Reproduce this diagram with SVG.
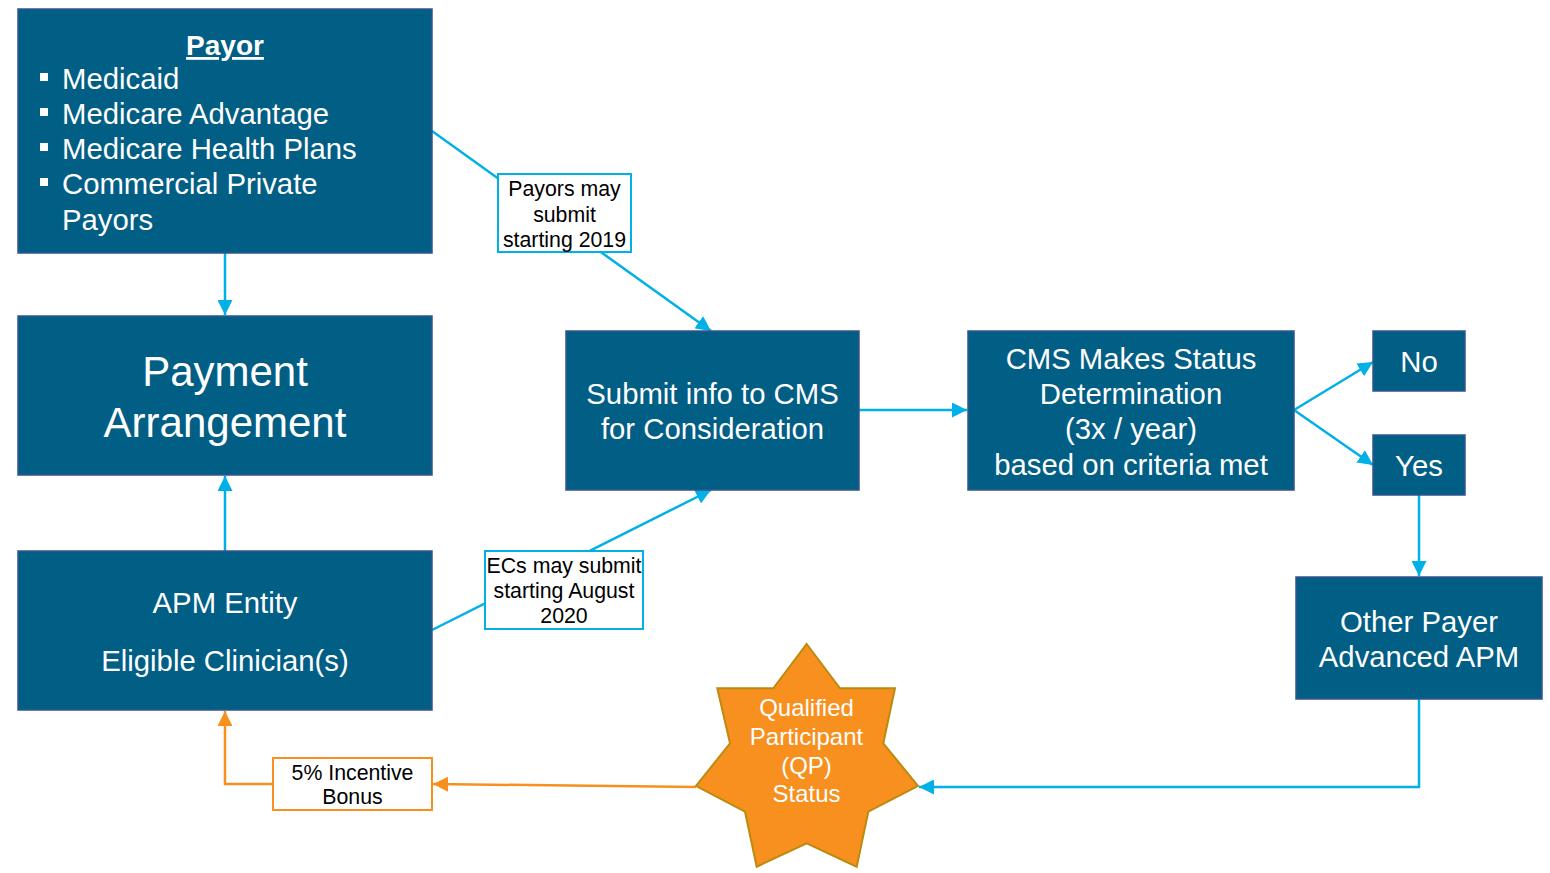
<svg xmlns="http://www.w3.org/2000/svg" width="1550" height="873" viewBox="0 0 1550 873">
<style>
.box{fill:#015E85;stroke:#34548F;stroke-width:1.5}
.wt{fill:#fff;font-family:"Liberation Sans",Arial,sans-serif;font-size:29.3px;text-anchor:middle}
.big{font-size:42px}
.star{font-size:24px}
.lbl{fill:#fff;stroke:#00B0E6;stroke-width:2}
.lt{fill:#000;font-family:"Liberation Sans",Arial,sans-serif;font-size:21.3px;text-anchor:middle}
.cy{stroke:#00B0E6;stroke-width:2.5;fill:none}
.or{stroke:#F7901E;stroke-width:2.5;fill:none}
.li{fill:#fff;font-family:"Liberation Sans",Arial,sans-serif;font-size:29.3px}
</style>
<defs>
<marker id="ac" viewBox="0 0 10 10" refX="10" refY="5" markerWidth="6" markerHeight="6" markerUnits="strokeWidth" orient="auto"><path d="M0,0 L10,5 L0,10 Z" fill="#00B0E6"/></marker>
<marker id="ao" viewBox="0 0 10 10" refX="10" refY="5" markerWidth="6" markerHeight="6" markerUnits="strokeWidth" orient="auto"><path d="M0,0 L10,5 L0,10 Z" fill="#F7901E"/></marker>
</defs>
<g id="connectors">
<line class="cy" x1="432" y1="131" x2="711" y2="331" marker-end="url(#ac)"/>
<line class="cy" x1="225" y1="253" x2="225" y2="315" marker-end="url(#ac)"/>
<line class="cy" x1="225" y1="551" x2="225" y2="476" marker-end="url(#ac)"/>
<line class="cy" x1="432" y1="630" x2="711" y2="490" marker-end="url(#ac)"/>
<line class="cy" x1="859" y1="410" x2="967" y2="410" marker-end="url(#ac)"/>
<line class="cy" x1="1294" y1="410" x2="1373" y2="362" marker-end="url(#ac)"/>
<line class="cy" x1="1294" y1="410" x2="1373" y2="465" marker-end="url(#ac)"/>
<line class="cy" x1="1419" y1="495" x2="1419" y2="576" marker-end="url(#ac)"/>
<polyline class="cy" points="1419,699 1419,787 919,787" marker-end="url(#ac)"/>
<line class="or" x1="696" y1="787" x2="433" y2="784" marker-end="url(#ao)"/>
<polyline class="or" points="273,784 225,784 225,711" marker-end="url(#ao)"/>
</g>
<g id="label-payors">
<rect class="lbl" x="498" y="174" width="133" height="78"/>
<text class="lt" x="564.5" y="196">Payors may</text>
<text class="lt" x="564.5" y="222">submit</text>
<text class="lt" x="564.5" y="247">starting 2019</text>
</g>
<g id="label-ecs">
<rect class="lbl" x="485" y="551" width="158" height="78"/>
<text class="lt" x="564" y="573">ECs may submit</text>
<text class="lt" x="564" y="598">starting August</text>
<text class="lt" x="564" y="623">2020</text>
</g>
<g id="label-bonus">
<rect x="273" y="758" width="159" height="52" fill="#fff" stroke="#F7901E" stroke-width="2"/>
<text class="lt" x="352.5" y="780">5% Incentive</text>
<text class="lt" x="352.5" y="804">Bonus</text>
</g>
<g id="payor">
<rect class="box" x="18" y="9" width="414" height="244"/>
<text class="wt" x="225" y="55" style="font-weight:bold;font-size:28px" text-decoration="underline">Payor</text>
<g fill="#fff">
<rect x="40" y="73" width="8" height="8"/>
<rect x="40" y="108" width="8" height="8"/>
<rect x="40" y="143" width="8" height="8"/>
<rect x="40" y="178" width="8" height="8"/>
</g>
<text class="li" x="62" y="89">Medicaid</text>
<text class="li" x="62" y="124">Medicare Advantage</text>
<text class="li" x="62" y="159">Medicare Health Plans</text>
<text class="li" x="62" y="194">Commercial Private</text>
<text class="li" x="62" y="230">Payors</text>
</g>
<g id="payment">
<rect class="box" x="18" y="316" width="414" height="159"/>
<text class="wt big" x="225" y="386">Payment</text>
<text class="wt big" x="225" y="437">Arrangement</text>
</g>
<g id="apm">
<rect class="box" x="18" y="551" width="414" height="159"/>
<text class="wt" x="225" y="613">APM Entity</text>
<text class="wt" x="225" y="671">Eligible Clinician(s)</text>
</g>
<g id="submit">
<rect class="box" x="566" y="331" width="293" height="159"/>
<text class="wt" x="712.5" y="404">Submit info to CMS</text>
<text class="wt" x="712.5" y="439">for Consideration</text>
</g>
<g id="cms">
<rect class="box" x="968" y="331" width="326" height="159"/>
<text class="wt" x="1131" y="369">CMS Makes Status</text>
<text class="wt" x="1131" y="404">Determination</text>
<text class="wt" x="1131" y="439">(3x / year)</text>
<text class="wt" x="1131" y="475">based on criteria met</text>
</g>
<g id="no">
<rect class="box" x="1373" y="331" width="92" height="60"/>
<text class="wt" x="1419" y="372">No</text>
</g>
<g id="yes">
<rect class="box" x="1373" y="435" width="92" height="60"/>
<text class="wt" x="1419" y="476">Yes</text>
</g>
<g id="other">
<rect class="box" x="1296" y="577" width="246" height="122"/>
<text class="wt" x="1419" y="632">Other Payer</text>
<text class="wt" x="1419" y="667">Advanced APM</text>
</g>
<g id="qp">
<polygon points="806.7,644 840,688.3 895,688.3 883.3,743.3 918,786 868.3,811.7 856.7,866.7 806.7,843.3 756.7,866.7 745,811.7 696,786 730,743.3 717.3,688.3 773.3,688.3" fill="#F7901E" stroke="#BD8A10" stroke-width="2"/>
<text class="wt star" x="806.5" y="716">Qualified</text>
<text class="wt star" x="806.5" y="745">Participant</text>
<text class="wt star" x="806.5" y="774">(QP)</text>
<text class="wt star" x="806.5" y="802">Status</text>
</g>
</svg>
